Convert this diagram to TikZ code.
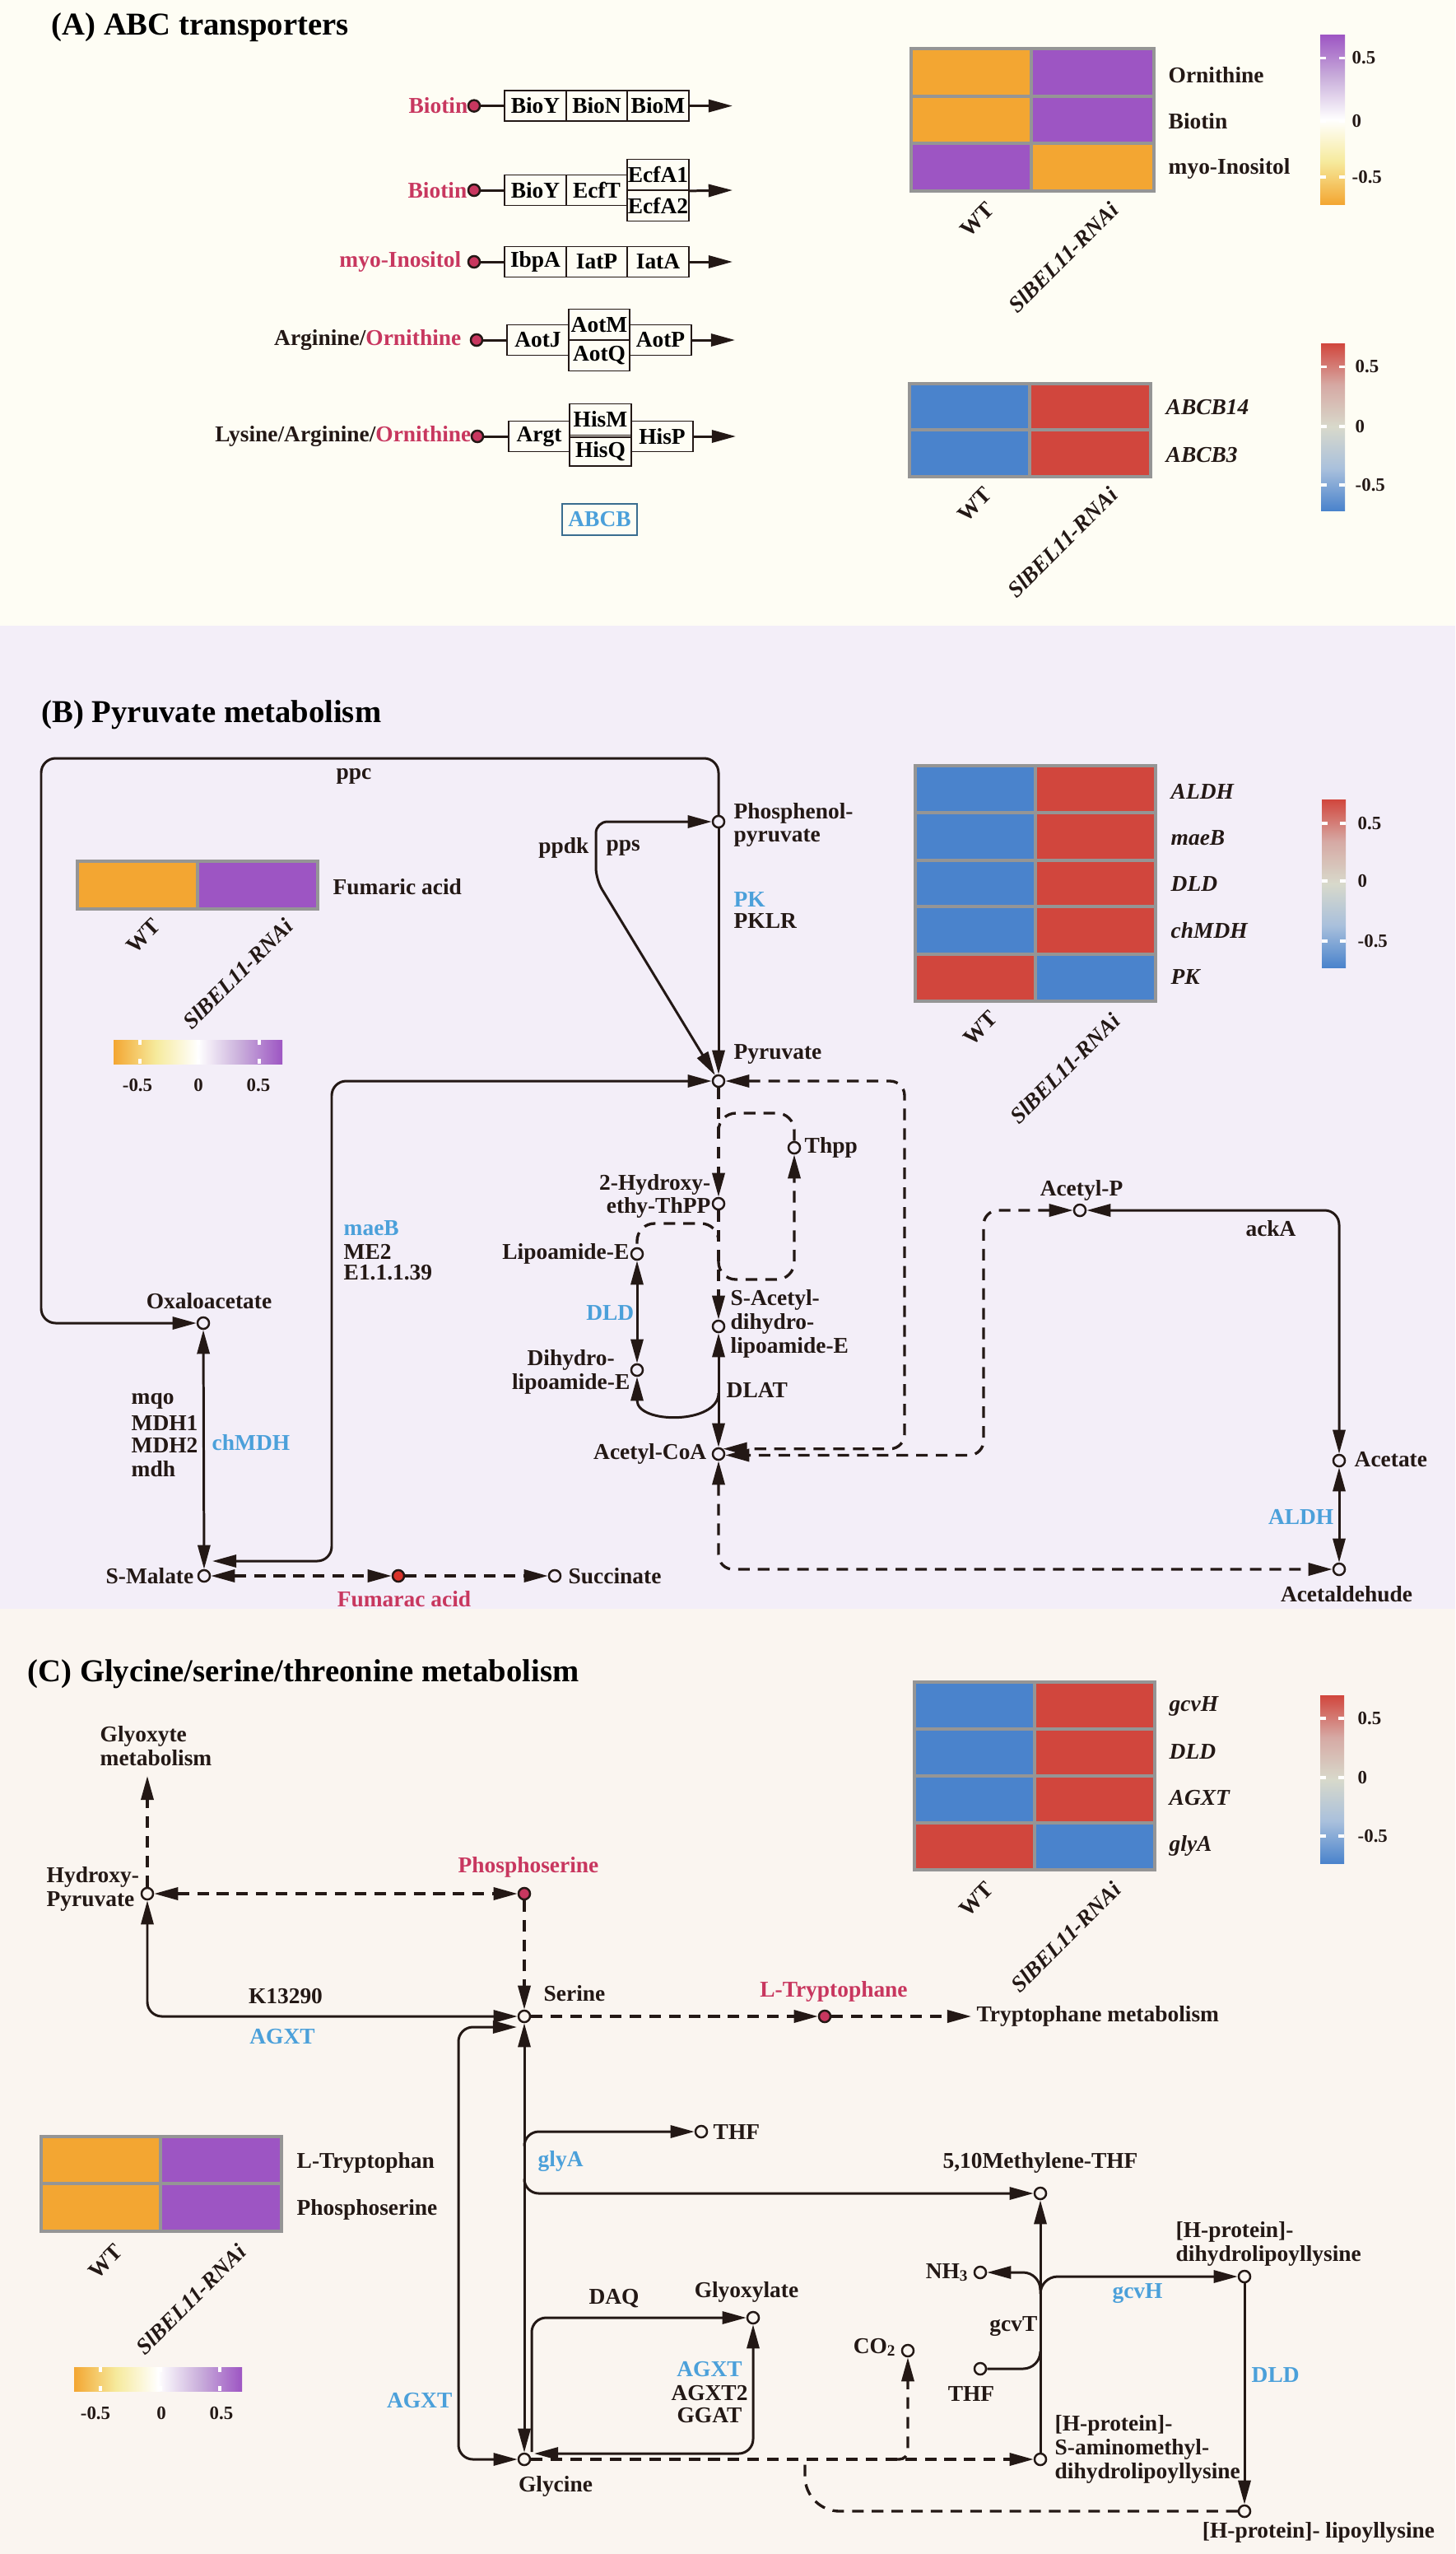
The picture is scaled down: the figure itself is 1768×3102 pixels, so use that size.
\documentclass[tikz,border=0pt]{standalone}
\usepackage{fontspec}
\setmainfont{Liberation Serif}
\usetikzlibrary{arrows.meta}
\definecolor{bgA}{HTML}{FEFDF4}
\definecolor{bgB}{HTML}{F3EEF8}
\definecolor{bgC}{HTML}{FAF5F0}
\definecolor{cLine}{HTML}{231815}
\definecolor{cMet}{HTML}{C8375F}
\definecolor{cFum}{HTML}{D9332B}
\definecolor{cEnz}{HTML}{4BA0DA}
\definecolor{cBox}{HTML}{3A6D8F}
\definecolor{cOr}{HTML}{F3A632}
\definecolor{cYe}{HTML}{F6EA9C}
\definecolor{cLa}{HTML}{C9AEDB}
\definecolor{cPu}{HTML}{9D55C3}
\definecolor{cBl}{HTML}{4A83CC}
\definecolor{cLb}{HTML}{A9C0DC}
\definecolor{cMid}{HTML}{D8D9CB}
\definecolor{cPk}{HTML}{D6A9A4}
\definecolor{cRd}{HTML}{D1463D}
\definecolor{cGrid}{HTML}{959595}
\pgfdeclareverticalshading{cbPOv}{100bp}{color(0bp)=(cOr); color(25bp)=(cOr); color(37.5bp)=(cYe); color(50bp)=(white); color(62.5bp)=(cLa); color(75bp)=(cPu); color(100bp)=(cPu)}
\pgfdeclareverticalshading{cbBRv}{100bp}{color(0bp)=(cBl); color(25bp)=(cBl); color(37.5bp)=(cLb); color(50bp)=(cMid); color(62.5bp)=(cPk); color(75bp)=(cRd); color(100bp)=(cRd)}
\pgfdeclarehorizontalshading{cbPOh}{100bp}{color(0bp)=(cOr); color(25bp)=(cOr); color(37.5bp)=(cYe); color(50bp)=(white); color(62.5bp)=(cLa); color(75bp)=(cPu); color(100bp)=(cPu)}
\newcommand{\fN}{\fontsize{7.8}{8.2}\selectfont\bfseries}
\newcommand{\fNi}{\fontsize{7.8}{8.2}\selectfont\bfseries\itshape}
\newcommand{\fT}{\fontsize{11}{13}\selectfont\bfseries}
\newcommand{\fS}{\fontsize{6.5}{7}\selectfont\bfseries}
\begin{document}
\begin{tikzpicture}[x=0.01cm,y=-0.01cm,
  ln/.style={draw=cLine, line width=0.85pt},
  ar/.style={ln, -{Triangle[length=8.3pt,width=4.3pt]}},
  dar/.style={ln, {Triangle[length=8.3pt,width=4.3pt]}-{Triangle[length=8.3pt,width=4.3pt]}},
  dsh/.style={line width=0.95pt, dash pattern=on 4pt off 2.8pt},
  rc/.style={rounded corners=5pt},
  mc/.style={circle, draw=cLine, line width=0.7pt, minimum size=4pt, inner sep=0pt},
  mcB/.style={mc, fill=bgB},
  mcC/.style={mc, fill=bgC},
  rd/.style={mc, fill=cMet},
  lab/.style={inner sep=0pt, font=\fN, text=cLine},
  labi/.style={inner sep=0pt, font=\fNi, text=cLine},
  enz/.style={inner sep=0pt, font=\fN, text=cEnz},
  met/.style={inner sep=0pt, font=\fN, text=cMet},
  tick/.style={inner sep=0pt, font=\fS, text=cLine},
  bx/.style={draw=cLine, line width=0.5pt, minimum width=0.745cm, minimum height=0.37cm, inner sep=0pt, font=\fN},
  bxh/.style={bx, minimum height=0.375cm},
  grid/.style={draw=cGrid, line width=1pt},
  wt/.style={white, line width=1pt},
  cl/.style={lab, rotate=45, anchor=north east},
  cli/.style={labi, rotate=45, anchor=north east}]
\useasboundingbox (0,0) rectangle (1768,3102);
\fill[bgA] (0,0) rectangle (1768,760);
\fill[bgB] (0,760) rectangle (1768,1954);
\fill[bgC] (0,1954) rectangle (1768,3102);

% ================= Panel A =================
\node[anchor=base west, inner sep=0pt, font=\fT] (tA) at (62,42) {(A) ABC transporters};

\node[met, anchor=east] (a1t) at (569,128.6) {Biotin};
\node[rd] (a1d) at (576,128.6) {};
\node[bx] (a11) at (650.5,128.6) {BioY};
\node[bx] (a12) at (725,128.6) {BioN};
\node[bx] (a13) at (799.5,128.6) {BioM};
\coordinate (a1e) at (890,128.6);
\draw[ln] (a1d) -- (a11);
\draw[ar] (a13) -- (a1e);

\node[met, anchor=east] (a2t) at (568,231) {Biotin};
\node[rd] (a2d) at (576,231) {};
\node[bx] (a21) at (650.5,231) {BioY};
\node[bx] (a22) at (725,231) {EcfT};
\node[bxh] (a23) at (799.5,212.25) {EcfA1};
\node[bxh] (a24) at (799.5,249.75) {EcfA2};
\coordinate (a2e) at (890,231);
\draw[ln] (a2d) -- (a21);
\draw[ar] (a23.south east) -- (a2e);

\node[met, anchor=east] (a3t) at (561,318) {myo-Inositol};
\node[rd] (a3d) at (576,318) {};
\node[bx] (a31) at (650.5,318) {IbpA};
\node[bx] (a32) at (725,318) {IatP};
\node[bx] (a33) at (799.5,318) {IatA};
\coordinate (a3e) at (890,318);
\draw[ln] (a3d) -- (a31);
\draw[ar] (a33) -- (a3e);

\node[lab, anchor=east] (a4t) at (561,413) {Arginine/\textcolor{cMet}{Ornithine}};
\node[rd] (a4d) at (579,413) {};
\node[bx] (a41) at (653.5,413) {AotJ};
\node[bxh] (a42) at (728,394.25) {AotM};
\node[bxh] (a43) at (728,431.75) {AotQ};
\node[bx] (a44) at (802.5,413) {AotP};
\coordinate (a4e) at (893,413);
\draw[ln] (a4d) -- (a41);
\draw[ar] (a44) -- (a4e);

\node[lab, anchor=east] (a5t) at (573,530) {Lysine/Arginine/\textcolor{cMet}{Ornithine}};
\node[rd] (a5d) at (580,530) {};
\node[bx] (a51) at (655,530) {Argt};
\node[bx, minimum height=0.38cm] (a52) at (729.5,509.5) {HisM};
\node[bx, minimum height=0.35cm] (a53) at (729.5,548.5) {HisQ};
\node[bx] (a54) at (804.5,530) {HisP};
\coordinate (a5e) at (894,530);
\draw[ln] (a5d) -- (a51);
\draw[ar] (a54) -- (a5e);

\node[bx, draw=cBox, text=cEnz, minimum width=0.91cm, minimum height=0.38cm] (abcb) at (728.5,631) {ABCB};

% heatmap A1
\fill[cOr] (1107,59) rectangle (1253,117);
\fill[cPu] (1253,59) rectangle (1402,117);
\fill[cOr] (1107,117) rectangle (1253,174);
\fill[cPu] (1253,117) rectangle (1402,174);
\fill[cPu] (1107,174) rectangle (1253,232);
\fill[cOr] (1253,174) rectangle (1402,232);
\draw[grid] (1107,59) rectangle (1402,232) (1107,117) -- (1402,117) (1107,174) -- (1402,174) (1253,59) -- (1253,232);
\node[lab, anchor=west] (hA1a) at (1419,91) {Ornithine};
\node[lab, anchor=west] (hA1b) at (1419,147) {Biotin};
\node[lab, anchor=west] (hA1c) at (1419,205) {myo-Inositol};
\node[cl] (hA1w) at (1197,243) {WT};
\node[cli] (hA1s) at (1347,243) {SlBEL11-RNAi};
\shade[shading=cbPOv] (1604,42) rectangle (1634,248);
\foreach \yy in {70.5,147,215} {\draw[wt] (1604,\yy) -- (1611,\yy) (1627,\yy) -- (1634,\yy);}
\node[tick, anchor=west] (cA1a) at (1642,70.5) {0.5};
\node[tick, anchor=west] (cA1b) at (1642,147) {0};
\node[tick, anchor=west] (cA1c) at (1642,215) {-0.5};

% heatmap A2
\fill[cBl] (1105,466) rectangle (1251,579);
\fill[cRd] (1251,466) rectangle (1398,579);
\draw[grid] (1105,466) rectangle (1398,579) (1105,522) -- (1398,522) (1251,466) -- (1251,579);
\node[labi, anchor=west] (hA2a) at (1416,495) {ABCB14};
\node[labi, anchor=west] (hA2b) at (1416,553) {ABCB3};
\node[cl] (hA2w) at (1194,589) {WT};
\node[cli] (hA2s) at (1346,589) {SlBEL11-RNAi};
\shade[shading=cbBRv] (1605,417) rectangle (1634,620);
\foreach \yy in {445.5,518,589} {\draw[wt] (1605,\yy) -- (1612,\yy) (1627,\yy) -- (1634,\yy);}
\node[tick, anchor=west] (cA2a) at (1646,445.5) {0.5};
\node[tick, anchor=west] (cA2b) at (1646,518) {0};
\node[tick, anchor=west] (cA2c) at (1646,589) {-0.5};

% ================= Panel B =================
\node[anchor=base west, inner sep=0pt, font=\fT] (tB) at (50,877) {(B) Pyruvate metabolism};

\node[mcB] (PEP) at (873,998) {};
\node[mcB] (Pyr) at (873,1313) {};
\node[mcB] (HET) at (873,1462) {};
\node[mcB] (SAc) at (873,1611) {};
\node[mcB] (Thpp) at (965,1394) {};
\node[mcB] (Lip) at (774,1523) {};
\node[mcB] (DiH) at (774,1664) {};
\node[mcB] (ACoA) at (873,1766) {};
\node[mcB] (AcP) at (1312,1470) {};
\node[mcB] (Acet) at (1627,1774) {};
\node[mcB] (Acald) at (1627,1906) {};
\node[mcB] (Oxa) at (247,1607) {};
\node[mcB] (SMal) at (248,1914) {};
\node[mc, fill=cFum] (Fum) at (484,1914) {};
\node[mcB] (Succ) at (674,1914) {};

\node[lab, anchor=west, align=left] (lPEP) at (891,1002) {Phosphenol-\\pyruvate};
\node[lab, anchor=west] (lPyr) at (891,1280) {Pyruvate};
\node[enz, anchor=west] (lPK) at (891,1093) {PK};
\node[lab, anchor=west] (lPKLR) at (891,1119) {PKLR};
\node[lab, anchor=east] (lppdk) at (716,1030) {ppdk};
\node[lab, anchor=west] (lpps) at (736,1030) {pps};
\node[lab] (lppc) at (430,943) {ppc};
\node[lab, anchor=east, align=right] (lHET) at (864,1453) {2-Hydroxy-\\ethy-ThPP};
\node[lab, anchor=west] (lThpp) at (977,1394) {Thpp};
\node[lab, anchor=east] (lLip) at (765,1523) {Lipoamide-E};
\node[enz, anchor=east] (lDLD) at (771,1595) {DLD};
\node[lab, anchor=east, align=center] (lDiH) at (766,1666) {Dihydro-\\lipoamide-E};
\node[lab, anchor=west, align=left] (lSAc) at (887,1608) {S-Acetyl-\\dihydro-\\lipoamide-E};
\node[lab, anchor=west] (lDLAT) at (882,1688) {DLAT};
\node[lab, anchor=east] (lACoA) at (859,1766) {Acetyl-CoA};
\node[lab] (lAcP) at (1314,1446) {Acetyl-P};
\node[lab] (lackA) at (1544,1492) {ackA};
\node[lab, anchor=west] (lAcet) at (1645,1773) {Acetate};
\node[enz, anchor=east] (lALDH) at (1621,1842) {ALDH};
\node[lab] (lAcald) at (1636,1936) {Acetaldehude};
\node[enz, anchor=west] (lmaeB) at (417,1492) {maeB};
\node[lab, anchor=west] (lME2) at (417,1520) {ME2};
\node[lab, anchor=west] (lE11) at (417,1546) {E1.1.1.39};
\node[lab] (lOxa) at (254,1580) {Oxaloacetate};
\node[lab, anchor=west] (lmqo) at (159,1702) {mqo};
\node[lab, anchor=west] (lMDH1) at (159,1728) {MDH1};
\node[lab, anchor=west] (lMDH2) at (159,1755) {MDH2};
\node[lab, anchor=west] (lmdh) at (159,1784) {mdh};
\node[enz, anchor=west] (lchMDH) at (257,1752) {chMDH};
\node[lab, anchor=east] (lSMal) at (236,1914) {S-Malate};
\node[lab, anchor=west] (lSucc) at (690,1914) {Succinate};
\node[met] (lFum) at (491,1942) {Fumarac acid};

\coordinate (kB1) at (50,921);
\coordinate (kB2) at (724,1068);
\coordinate (kB3) at (724,998);
\coordinate (kB4) at (258,1896);
\coordinate (kB5) at (403,1600);
\coordinate (kB6) at (873,1368);
\coordinate (kB7) at (965,1352);
\coordinate (kB8) at (873,1530);
\coordinate (kB9) at (965,1554);
\coordinate (kB10) at (873,1500);
\coordinate (kB11) at (774,1486);
\coordinate (kB12) at (873,1692);
\coordinate (kB13) at (1099,1500);
\coordinate (kB14) at (1195,1600);

\draw[ar, rc] (PEP) |- (kB1) |- (Oxa);
\draw[ar] (PEP) -- (Pyr);
\draw[dar, rounded corners=4pt] (PEP) -- (kB3) -- (kB2) -- (Pyr);
\draw[dar, rc] (Pyr) -| (kB5) |- (kB4);
\draw[dar] (Oxa) -- (SMal);
\draw[dar, dsh] (SMal) -- (Fum);
\draw[ar, dsh] (Fum) -- (Succ);
\draw[ar, dsh] (Pyr) -- (HET);
\draw[ar, dsh] (HET) -- (SAc);
\draw[ln, dsh, rounded corners=6pt] (kB6) |- (kB7) -- (Thpp);
\draw[ar, dsh, rounded corners=6pt] (kB8) |- (kB9) -- (Thpp);
\draw[ln, dsh, rounded corners=6pt] (kB10) |- (kB11) -- (Lip);
\draw[dar] (Lip) -- (DiH);
\draw[ar] (kB12) .. controls (873,1730) and (774,1730) .. (DiH);
\draw[dar] (SAc) -- (ACoA);
\draw[dar, dsh, rc] (ACoA) |- (Acald);
\draw[dar, dsh, rc] (Pyr) -| (kB13) |- (ACoA.50);
\draw[dar, dsh, rc] (AcP) -| (kB14) |- (ACoA.-10);
\draw[dar, rc] (AcP) -| (Acet);
\draw[dar] (Acet) -- (Acald);

% fumaric heatmap
\fill[cOr] (94,1046) rectangle (240,1104);
\fill[cPu] (240,1046) rectangle (386,1104);
\draw[grid] (94,1046) rectangle (386,1104) (240,1046) -- (240,1104);
\node[lab, anchor=west] (hB1a) at (404,1077) {Fumaric acid};
\node[cl] (hB1w) at (184,1113) {WT};
\node[cli] (hB1s) at (344,1113) {SlBEL11-RNAi};
\shade[shading=cbPOh] (138,1263) rectangle (343,1292);
\foreach \xx in {170,241,315} {\draw[wt] (\xx,1263) -- (\xx,1269) (\xx,1286) -- (\xx,1292);}
\node[tick] (cB1a) at (167,1318) {-0.5};
\node[tick] (cB1b) at (241,1318) {0};
\node[tick] (cB1c) at (314,1318) {0.5};

% heatmap B right
\fill[cBl] (1112,930) rectangle (1258,1159);
\fill[cRd] (1258,930) rectangle (1404,1159);
\fill[cRd] (1112,1159) rectangle (1258,1216);
\fill[cBl] (1258,1159) rectangle (1404,1216);
\draw[grid] (1112,930) rectangle (1404,1216) (1112,987) -- (1404,987) (1112,1045) -- (1404,1045) (1112,1101) -- (1404,1101) (1112,1159) -- (1404,1159) (1258,930) -- (1258,1216);
\node[labi, anchor=west] (hB2a) at (1422,961) {ALDH};
\node[labi, anchor=west] (hB2b) at (1422,1018) {maeB};
\node[labi, anchor=west] (hB2c) at (1422,1074) {DLD};
\node[labi, anchor=west] (hB2d) at (1422,1130) {chMDH};
\node[labi, anchor=west] (hB2e) at (1422,1186) {PK};
\node[cl] (hB2w) at (1201,1225) {WT};
\node[cli] (hB2s) at (1349,1228) {SlBEL11-RNAi};
\shade[shading=cbBRv] (1606,971) rectangle (1635,1175);
\foreach \yy in {1000,1070,1143} {\draw[wt] (1606,\yy) -- (1613,\yy) (1628,\yy) -- (1635,\yy);}
\node[tick, anchor=west] (cB2a) at (1649,1000) {0.5};
\node[tick, anchor=west] (cB2b) at (1649,1070) {0};
\node[tick, anchor=west] (cB2c) at (1649,1143) {-0.5};

% ================= Panel C =================
\node[anchor=base west, inner sep=0pt, font=\fT] (tC) at (33,2042) {(C) Glycine/serine/threonine metabolism};

\node[mcC] (HP) at (179,2300) {};
\node[rd] (PS) at (637,2300) {};
\node[mcC] (Ser) at (637,2449) {};
\node[rd] (LT) at (1002,2449) {};
\node[mcC] (Gly) at (637,2987) {};
\node[mcC] (THFa) at (852,2589) {};
\node[mcC] (MTHF) at (1264,2664) {};
\node[mcC] (Glx) at (915,2815) {};
\node[mcC] (CO2) at (1103,2855) {};
\node[mcC] (NH3) at (1191,2760) {};
\node[mcC] (THFb) at (1191,2877) {};
\node[mcC] (SAm) at (1264,2987) {};
\node[mcC] (DHL) at (1512,2765) {};
\node[mcC] (LL) at (1512,3050) {};

\node[lab, anchor=west, align=left] (lGlyo) at (121,2121) {Glyoxyte\\metabolism};
\node[lab, anchor=west, align=left] (lHP) at (56,2294) {Hydroxy-\\Pyruvate};
\node[met] (lPS) at (642,2268) {Phosphoserine};
\node[lab, anchor=west] (lSer) at (660,2421) {Serine};
\node[lab] (lK13) at (347,2424) {K13290};
\node[enz] (lAGXT1) at (343,2474) {AGXT};
\node[met] (lLT) at (1013,2419) {L-Tryptophane};
\node[lab, anchor=west] (lTrp) at (1186,2449) {Tryptophane metabolism};
\node[lab, anchor=west] (lTHFa) at (866,2589) {THF};
\node[enz, anchor=west] (lglyA) at (653,2625) {glyA};
\node[lab] (lMTHF) at (1264,2627) {5,10Methylene-THF};
\node[enz, anchor=east] (lAGXT2) at (550,2916) {AGXT};
\node[lab] (lDAQ) at (746,2792) {DAQ};
\node[lab] (lGlx) at (907,2784) {Glyoxylate};
\node[enz] (lAGXT3) at (862,2878) {AGXT};
\node[lab] (lAGXT4) at (862,2907) {AGXT2};
\node[lab] (lGGAT) at (862,2934) {GGAT};
\node[lab] (lGly) at (675,3020) {Glycine};
\node[lab, anchor=east] (lCO2) at (1090,2851) {CO\textsubscript{2}};
\node[lab, anchor=east] (lNH3) at (1178,2760) {NH\textsubscript{3}};
\node[lab] (lTHFb) at (1180,2907) {THF};
\node[lab, anchor=east] (lgcvT) at (1261,2826) {gcvT};
\node[enz] (lgcvH) at (1382,2786) {gcvH};
\node[lab, anchor=west, align=left] (lDHL) at (1428,2725) {[H-protein]-\\dihydrolipoyllysine};
\node[enz, anchor=west] (lDLD2) at (1520,2885) {DLD};
\node[lab, anchor=west, align=left] (lSAm) at (1281,2975) {[H-protein]-\\S-aminomethyl-\\dihydrolipoyllysine};
\node[lab] (lLL) at (1602,3076) {[H-protein]- lipoyllysine};

\coordinate (kC1) at (179,2157);
\coordinate (kC2) at (1180,2449);
\coordinate (kC3) at (628,2462);
\coordinate (kC4) at (557,2700);
\coordinate (kC5) at (637,2603);
\coordinate (kC6) at (637,2650);
\coordinate (kC7) at (646,2978);
\coordinate (kC8) at (649,2980);
\coordinate (kC9) at (1088,2987);
\coordinate (kC10) at (978,2989);
\coordinate (kC11) at (1264,2773);
\coordinate (kC13) at (1264,2860);

\draw[ar, dsh] (HP) -- (kC1);
\draw[dar, dsh] (HP) -- (PS);
\draw[ar, dsh] (PS) -- (Ser);
\draw[dar, rc] (HP) |- (Ser);
\draw[ar, dsh] (Ser) -- (LT);
\draw[ar, dsh] (LT) -- (kC2);
\draw[dar] (Ser) -- (Gly);
\draw[dar, rc] (kC3) -| (kC4) |- (Gly);
\draw[ar, rc] (kC5) |- (THFa);
\draw[ar, rc] (kC6) |- (MTHF);
\draw[ar, rc] (kC7) |- (Glx);
\draw[dar, rc] (Glx) |- (kC8);
\draw[ar, dsh] (Gly) -- (SAm);
\draw[ar, dsh, rounded corners=3pt] (kC9) -| (CO2);
\draw[ln, dsh, rounded corners=12pt] (LL) -| (kC10);
\draw[ar] (SAm) -- (MTHF);
\draw[ar, rounded corners=6pt] (kC11) |- (NH3);
\draw[ar, rounded corners=6pt] (kC11) |- (DHL);
\draw[ln, rounded corners=6pt] (THFb) -| (kC13);
\draw[ar] (DHL) -- (LL);

% heatmap C right
\fill[cBl] (1111,2043) rectangle (1257,2214);
\fill[cRd] (1257,2043) rectangle (1403,2214);
\fill[cRd] (1111,2214) rectangle (1257,2271);
\fill[cBl] (1257,2214) rectangle (1403,2271);
\draw[grid] (1111,2043) rectangle (1403,2271) (1111,2100) -- (1403,2100) (1111,2157) -- (1403,2157) (1111,2214) -- (1403,2214) (1257,2043) -- (1257,2271);
\node[labi, anchor=west] (hC1a) at (1420,2072) {gcvH};
\node[labi, anchor=west] (hC1b) at (1420,2128) {DLD};
\node[labi, anchor=west] (hC1c) at (1420,2184) {AGXT};
\node[labi, anchor=west] (hC1d) at (1420,2242) {glyA};
\node[cl] (hC1w) at (1196,2283) {WT};
\node[cli] (hC1s) at (1350,2283) {SlBEL11-RNAi};
\shade[shading=cbBRv] (1604,2059) rectangle (1633,2263);
\foreach \yy in {2087,2159,2230} {\draw[wt] (1604,\yy) -- (1611,\yy) (1626,\yy) -- (1633,\yy);}
\node[tick, anchor=west] (cC1a) at (1649,2087) {0.5};
\node[tick, anchor=west] (cC1b) at (1649,2159) {0};
\node[tick, anchor=west] (cC1c) at (1649,2230) {-0.5};

% heatmap C left
\fill[cOr] (50,2595) rectangle (195,2710);
\fill[cPu] (195,2595) rectangle (342,2710);
\draw[grid] (50,2595) rectangle (342,2710) (50,2652) -- (342,2652) (195,2595) -- (195,2710);
\node[lab, anchor=west] (hC2a) at (360,2627) {L-Tryptophan};
\node[lab, anchor=west] (hC2b) at (360,2684) {Phosphoserine};
\node[cl] (hC2w) at (138,2723) {WT};
\node[cli] (hC2s) at (287,2723) {SlBEL11-RNAi};
\shade[shading=cbPOh] (90,2875) rectangle (294,2904);
\foreach \xx in {122,195,267} {\draw[wt] (\xx,2875) -- (\xx,2881) (\xx,2898) -- (\xx,2904);}
\node[tick] (cC2a) at (116,2931) {-0.5};
\node[tick] (cC2b) at (196,2931) {0};
\node[tick] (cC2c) at (269,2931) {0.5};
\end{tikzpicture}
\end{document}
